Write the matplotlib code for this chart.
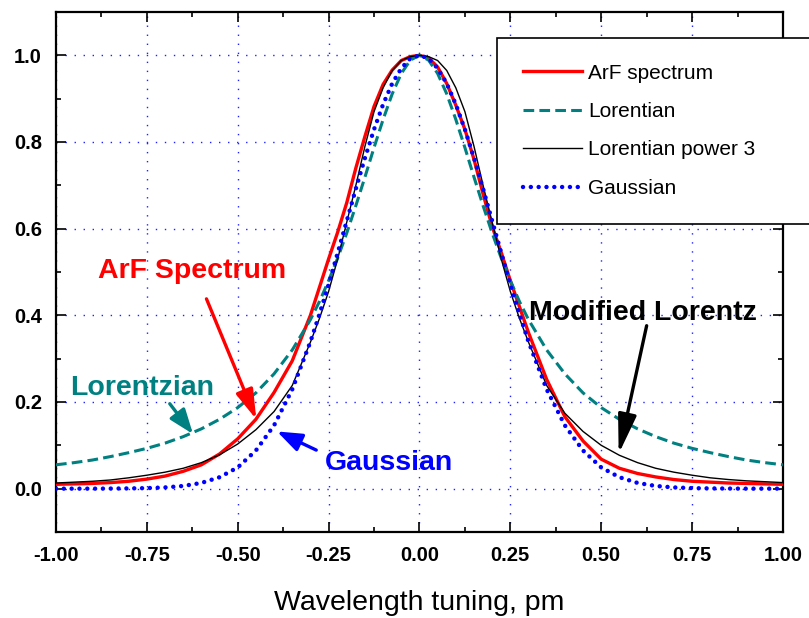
import matplotlib
matplotlib.use('Agg')
import matplotlib.pyplot as plt
from matplotlib.ticker import MultipleLocator

plt.rcParams['font.family'] = ['Liberation Sans', 'DejaVu Sans']

# wavelength tuning, pm (denser sampling around the peak)
x = [-1.0, -0.95, -0.9, -0.85, -0.8, -0.75, -0.7, -0.65, -0.6, -0.55, -0.5, -0.45, -0.4, -0.35,
     -0.3, -0.275, -0.25, -0.225, -0.2, -0.175, -0.15, -0.125, -0.1, -0.075, -0.05, -0.025,
     0.0, 0.025, 0.05, 0.075, 0.1, 0.125, 0.15, 0.175, 0.2, 0.225, 0.25, 0.275, 0.3,
     0.35, 0.4, 0.45, 0.5, 0.55, 0.6, 0.65, 0.7, 0.75, 0.8, 0.85, 0.9, 0.95, 1.0]

arf = [0.010, 0.011, 0.012, 0.014, 0.017, 0.022, 0.029, 0.040, 0.055, 0.080, 0.115, 0.160, 0.222, 0.295,
       0.400, 0.465, 0.530, 0.592, 0.660, 0.740, 0.813, 0.882, 0.933, 0.966, 0.988, 0.997,
       1.000, 0.994, 0.973, 0.935, 0.885, 0.829, 0.760, 0.680, 0.605, 0.545, 0.480, 0.420, 0.360,
       0.252, 0.166, 0.110, 0.068, 0.047, 0.035, 0.027, 0.021, 0.017, 0.015, 0.013, 0.012, 0.011, 0.010]

lorentz = [0.055, 0.060, 0.066, 0.074, 0.083, 0.093, 0.105, 0.120, 0.138, 0.160, 0.187, 0.221, 0.265, 0.320,
           0.390, 0.432, 0.480, 0.532, 0.590, 0.653, 0.719, 0.787, 0.852, 0.911, 0.958, 0.989,
           1.000, 0.989, 0.958, 0.911, 0.852, 0.787, 0.719, 0.653, 0.590, 0.532, 0.480, 0.432, 0.390,
           0.320, 0.265, 0.221, 0.187, 0.160, 0.138, 0.120, 0.105, 0.093, 0.083, 0.074, 0.066, 0.060, 0.055]

lorentz3 = [0.013, 0.015, 0.017, 0.020, 0.025, 0.031, 0.038, 0.047, 0.060, 0.078, 0.103, 0.136, 0.178, 0.238,
            0.338, 0.393, 0.455, 0.530, 0.615, 0.700, 0.790, 0.870, 0.925, 0.965, 0.988, 0.997,
            1.000, 0.997, 0.988, 0.965, 0.925, 0.870, 0.790, 0.700, 0.615, 0.530, 0.455, 0.393, 0.338,
            0.238, 0.174, 0.132, 0.100, 0.077, 0.060, 0.047, 0.038, 0.031, 0.025, 0.021, 0.018, 0.016, 0.014]

gauss = [0.0, 0.0, 0.0, 0.0002, 0.0005, 0.0012, 0.0028, 0.0062, 0.0132, 0.0263, 0.049, 0.088, 0.146, 0.229,
         0.339, 0.403, 0.471, 0.544, 0.618, 0.692, 0.763, 0.829, 0.887, 0.935, 0.970, 0.993,
         1.000, 0.993, 0.970, 0.935, 0.887, 0.829, 0.763, 0.692, 0.618, 0.544, 0.471, 0.403, 0.339,
         0.229, 0.146, 0.088, 0.049, 0.0263, 0.0132, 0.0062, 0.0028, 0.0012, 0.0005, 0.0002, 0.0, 0.0, 0.0]

labels = ['ArF spectrum', 'Lorentian', 'Lorentian power 3', 'Gaussian']
teal = '#008080'

fig = plt.figure(figsize=(8.09, 6.18), dpi=100)
ax = fig.add_axes([0.0692, 0.1392, 0.8986, 0.8414])

ax.plot(x, arf, color='red', lw=2.4, label=labels[0], zorder=3)
ax.plot(x, lorentz, color=teal, lw=2.2, dashes=(3.5, 1.7), label=labels[1], zorder=4)
ax.plot(x, lorentz3, color='black', lw=1.0, label=labels[2], zorder=5)
ax.plot(x, gauss, color='blue', lw=3.2, linestyle=(0, (0.01, 1.75)),
        dash_capstyle='round', label=labels[3], zorder=6)

ax.set_xlim(-1.0, 1.0)
ax.set_ylim(-0.1, 1.1)
ax.xaxis.set_major_locator(MultipleLocator(0.25))
ax.xaxis.set_minor_locator(MultipleLocator(0.125))
ax.yaxis.set_major_locator(MultipleLocator(0.2))
ax.yaxis.set_minor_locator(MultipleLocator(0.1))
ax.set_xticks([-1.0, -0.75, -0.5, -0.25, 0.0, 0.25, 0.5, 0.75, 1.0])
ax.set_xticklabels(['-1.00', '-0.75', '-0.50', '-0.25', '0.00', '0.25', '0.50', '0.75', '1.00'])
ax.set_yticks([0.0, 0.2, 0.4, 0.6, 0.8, 1.0])
ax.set_yticklabels(['0.0', '0.2', '0.4', '0.6', '0.8', '1.0'])

ax.tick_params(which='both', direction='in', top=True, right=True, width=1.2, color='black')
ax.tick_params(which='major', length=7, labelsize=14.5, pad=10)
ax.tick_params(which='minor', length=3.5)
for lab in ax.get_xticklabels() + ax.get_yticklabels():
    lab.set_fontweight('bold')
for sp in ax.spines.values():
    sp.set_linewidth(1.6)

ax.grid(True, which='major', color='#2222ff', lw=1.0, linestyle=(0, (1.0, 5.5)))
ax.set_axisbelow(True)

ax.set_xlabel('Wavelength tuning, pm', fontsize=20.5, labelpad=18)

# annotations
ax.text(-0.885, 0.487, 'ArF Spectrum', color='red', fontsize=20.5, fontweight='bold', zorder=8)
ax.annotate('', xy=(-0.449, 0.160), xytext=(-0.586, 0.438),
            arrowprops=dict(arrowstyle='-|>,head_length=0.9,head_width=0.27', color='red',
                            lw=2.4, mutation_scale=20, shrinkA=0, shrinkB=0), zorder=8)

ax.text(-0.962, 0.216, 'Lorentzian', color=teal, fontsize=20.5, fontweight='bold', zorder=8)
ax.annotate('', xy=(-0.623, 0.126), xytext=(-0.687, 0.196),
            arrowprops=dict(arrowstyle='-|>,head_length=0.75,head_width=0.28', color=teal,
                            lw=2.4, mutation_scale=20, shrinkA=0, shrinkB=0), zorder=8)

ax.text(-0.261, 0.043, 'Gaussian', color='blue', fontsize=20.5, fontweight='bold', zorder=8)
ax.annotate('', xy=(-0.392, 0.132), xytext=(-0.284, 0.089),
            arrowprops=dict(arrowstyle='-|>,head_length=0.75,head_width=0.28', color='blue',
                            lw=2.4, mutation_scale=20, shrinkA=0, shrinkB=0), zorder=8)

ax.text(0.300, 0.390, 'Modified Lorentz', color='black', fontsize=20.5, fontweight='bold', zorder=8)
ax.annotate('', xy=(0.548, 0.080), xytext=(0.625, 0.376),
            arrowprops=dict(arrowstyle='-|>,head_length=1.2,head_width=0.28', color='black',
                            lw=2.4, mutation_scale=20, shrinkA=0, shrinkB=0), zorder=8)

leg = ax.legend(loc='upper left', bbox_to_anchor=(0.607, 0.40, 0.46, 0.5506), mode='expand',
                fontsize=15, frameon=True, fancybox=False, framealpha=1, edgecolor='black',
                borderpad=1.25, labelspacing=0.93, handlelength=2.8, handletextpad=0.3,
                borderaxespad=0)
leg.get_frame().set_linewidth(1.2)
leg.set_zorder(10)

fig.savefig('out.png', dpi=100)
